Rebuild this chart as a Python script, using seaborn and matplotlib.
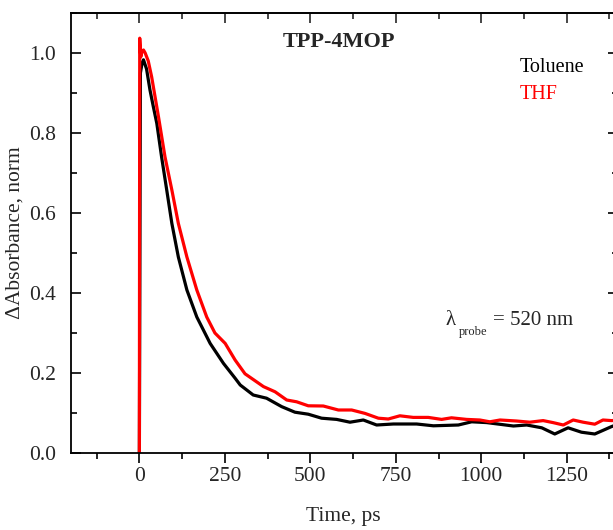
import numpy as np
import pandas as pd
import matplotlib
matplotlib.use("Agg")
import matplotlib.pyplot as plt
import seaborn as sns
from matplotlib.ticker import MultipleLocator, FormatStrFormatter

# ---- data ----
tol_t = [0, 3, 8, 12, 21, 31, 41, 51, 65, 80, 95, 114, 139, 168, 207, 246, 280,
         295, 333, 372, 416, 455, 494, 533, 577, 616, 655, 694, 743, 811, 860, 933, 972,
         1016, 1094, 1133, 1177, 1215, 1254, 1293, 1332, 1381, 1400]
tol_v = [0.0, 0.95, 0.975, 0.983, 0.96, 0.9075, 0.865, 0.824, 0.74, 0.6575, 0.574, 0.49,
         0.4075, 0.34, 0.274, 0.224, 0.187, 0.17, 0.145, 0.137, 0.116, 0.102, 0.097, 0.087,
         0.084, 0.077, 0.0825, 0.07, 0.0725, 0.0725, 0.068, 0.07, 0.078, 0.076, 0.0675, 0.07,
         0.063, 0.0475, 0.063, 0.052, 0.0475, 0.066, 0.072]

thf_t = [0, 1, 4, 8, 12, 17, 26, 36, 46, 56, 75, 95, 114, 139, 168, 197, 221, 251, 280,
         309, 363, 397, 431, 460, 494, 538, 582, 621, 660, 699, 728, 762, 801,
         845, 884, 913, 957, 996, 1025, 1055, 1103, 1142, 1181, 1210, 1240, 1269, 1298,
         1332, 1356, 1381, 1400]
thf_v = [0.0, 1.037, 0.99, 1.005, 1.0075, 1.0, 0.98, 0.94, 0.89, 0.84, 0.74, 0.6575,
         0.574, 0.49, 0.4075, 0.34, 0.30, 0.274, 0.2325, 0.198, 0.166, 0.153,
         0.1325, 0.128, 0.118, 0.1175, 0.1075, 0.1075, 0.099, 0.087, 0.085, 0.093, 0.089,
         0.089, 0.084, 0.088, 0.084, 0.0825, 0.078, 0.0825, 0.08, 0.077, 0.081, 0.076, 0.07,
         0.0825, 0.077, 0.072, 0.0825, 0.081, 0.082]

series_names = ["Toluene", "THF"]
series_colors = ["black", "red"]

df = pd.concat([
    pd.DataFrame({"t": tol_t, "v": tol_v, "solvent": series_names[0]}),
    pd.DataFrame({"t": thf_t, "v": thf_v, "solvent": series_names[1]}),
], ignore_index=True)

sns.set_style("ticks")
plt.rcParams["font.family"] = ["Liberation Serif", "DejaVu Serif"]
plt.rcParams["xtick.direction"] = "out"
plt.rcParams["ytick.direction"] = "in"

fig = plt.figure(figsize=(6.13, 5.30), dpi=100)
ax = fig.add_axes([71 / 613, 77 / 530, 547 / 613, 440 / 530])

sns.lineplot(data=df, x="t", y="v", hue="solvent", palette=series_colors,
             hue_order=series_names, sort=False, estimator=None, lw=2.3, ax=ax,
             legend=False)

ax.set_xlim(-200, 1400)
ax.set_ylim(0, 1.1)
ax.xaxis.set_major_locator(MultipleLocator(250))
ax.xaxis.set_minor_locator(MultipleLocator(125))
ax.yaxis.set_major_locator(MultipleLocator(0.2))
ax.yaxis.set_minor_locator(MultipleLocator(0.1))
ax.yaxis.set_major_formatter(FormatStrFormatter("%.1f"))

for s in ax.spines.values():
    s.set_visible(True)
    s.set_linewidth(1.3)
    s.set_color("black")

ax.tick_params(axis="x", which="both", bottom=True, top=False, direction="out",
               labelsize=15.5, pad=3, width=1.2, color="black")
ax.tick_params(axis="x", which="major", length=7)
ax.tick_params(axis="x", which="minor", length=4)
ax.tick_params(axis="y", which="both", left=True, right=True, direction="in",
               labelsize=15.5, pad=11, width=1.2, color="black")
ax.tick_params(axis="y", which="major", length=7)
ax.tick_params(axis="y", which="minor", length=4)

# top ticks (inward) via secondary axis
top = ax.secondary_xaxis("top")
top.xaxis.set_major_locator(MultipleLocator(250))
top.xaxis.set_minor_locator(MultipleLocator(125))
top.tick_params(which="both", direction="in", labeltop=False, width=1.2)
top.tick_params(which="major", length=7)
top.tick_params(which="minor", length=4)
top.spines["top"].set_linewidth(1.3)

ax.set_xlabel("Time, ps", fontsize=15.5)
ax.xaxis.set_label_coords((343 - 71) / 547, -(507 - 453) / 440)
ax.set_ylabel("\u0394Absorbance, norm", fontsize=15.5)
ax.yaxis.set_label_coords(-(71 - 25) / 547, 0.5)

ax.text(0.49, 0.934, "TPP-4MOP", transform=ax.transAxes, ha="center", va="center",
        fontsize=16, fontweight="bold")

ax.text(0.821, 0.875, series_names[0], transform=ax.transAxes, ha="left", va="center",
        fontsize=14.5, color=series_colors[0])
ax.text(0.821, 0.814, series_names[1], transform=ax.transAxes, ha="left", va="center",
        fontsize=14.5, color=series_colors[1])

ax.text(0.684, 0.302, "\u03bb", transform=ax.transAxes, ha="left", va="center",
        fontsize=15)
ax.text(0.709, 0.275, "probe", transform=ax.transAxes, ha="left", va="center",
        fontsize=9)
ax.text(0.771, 0.302, "= 520 nm", transform=ax.transAxes, ha="left", va="center",
        fontsize=15)

fig.savefig("out.png", dpi=100)
